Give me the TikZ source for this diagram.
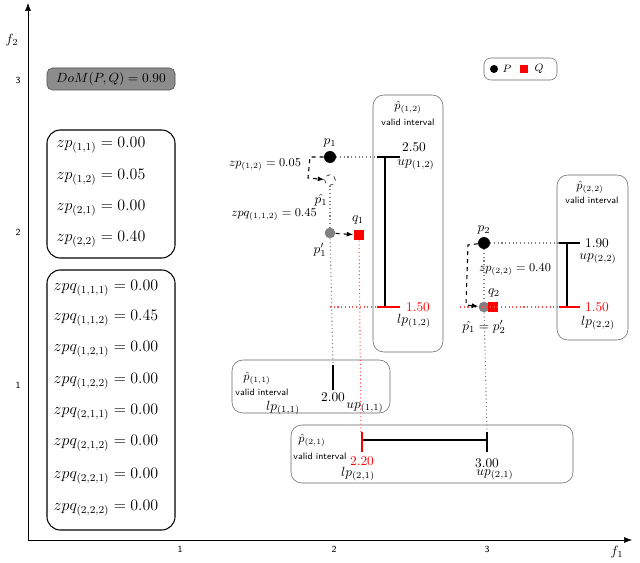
\documentclass[tikz,border=0pt]{standalone}
\usepackage{amsmath}
\usetikzlibrary{arrows.meta}
\begin{document}
\begin{tikzpicture}[x=0.75pt,y=-0.75pt,
 ibox/.style={draw=black!60,rounded corners=8pt,thin},
 lbox/.style={draw=black,thick,rounded corners=10pt},
 sm/.style={font=\sffamily\scriptsize},
 lab/.style={font=\normalsize},
 big/.style={font=\large},
 bar/.style={line width=2pt},
 gdot/.style={gray,dotted,thick},
 rdot/.style={red!70,dotted,thick},
 darr/.style={dashed,thick,-{Latex[length=5pt]}}]
\useasboundingbox (0,0) rectangle (640,563);
% axes
\draw[-{Latex[length=6pt]}] (28,540) -- (28,3);
\draw[-{Latex[length=6pt]}] (28,540) -- (632,540);
\node (f2) at (12,40) {$f_2$};
\node (f1) at (617,552) {$f_1$};
\node[sm] (y3) at (18,80) {3};
\node[sm] (y2) at (18,232) {2};
\node[sm] (y1) at (18,385) {1};
\node[sm] (x1) at (180,549) {1};
\node[sm] (x2) at (334,549) {2};
\node[sm] (x3) at (487,549) {3};
% left boxes
\draw[fill=black!45,draw=black!70,rounded corners=4pt] (47,68) rectangle (175,90);
\node[font=\normalsize] (dom) at (111,79) {$DoM(P,Q)=0.90$};
\draw[lbox] (47,130) rectangle (175,258);
\foreach \t/\v/\yy in {{(1,1)}/0.00/145,{(1,2)}/0.05/177,{(2,1)}/0.00/208,{(2,2)}/0.40/239}
  \node[big] at (101,\yy) {$zp_{\t}=\v$};
\draw[lbox] (47,270) rectangle (175,530);
\foreach \t/\v/\yy in {{(1,1,1)}/0.00/288,{(1,1,2)}/0.45/318,{(1,2,1)}/0.00/349,{(1,2,2)}/0.00/381,{(2,1,1)}/0.00/412,{(2,1,2)}/0.00/443,{(2,2,1)}/0.00/476,{(2,2,2)}/0.00/508}
  \node[big] at (106,\yy) {$zpq_{\t}=\v$};
% legend
\draw[ibox,rounded corners=5pt] (484,58) rectangle (557,80);
\fill (494,69) circle (4);
\node[font=\footnotesize] (lp) at (507,69) {$P$};
\fill[red] (520,65) rectangle (528,73);
\node[font=\footnotesize] (lq) at (539,69) {$Q$};
% interval boxes
\draw[ibox] (373,95) rectangle (443,352);
\node[font=\small] (t12) at (408,107) {$\hat p_{(1,2)}$};
\node[sm] (v12) at (408,122) {valid interval};
\draw[ibox] (557,175) rectangle (628,340);
\node[font=\small] (t22) at (590,187) {$\hat p_{(2,2)}$};
\node[sm] (v22) at (592,200) {valid interval};
\draw[ibox] (232,360) rectangle (390,413);
\node[font=\small] (t11) at (257,378) {$\hat p_{(1,1)}$};
\node[sm] (v11) at (262,392) {valid interval};
\draw[ibox] (291,425) rectangle (573,483);
\node[font=\small] (t21) at (312,440) {$\hat p_{(2,1)}$};
\node[sm] (v21) at (320,456) {valid interval};
% bars
\draw[bar] (385,157) -- (385,307);
\draw[bar] (377,157) -- (400,157);
\draw[bar,red] (377,307) -- (400,307);
\draw[bar] (567,243) -- (567,307);
\draw[bar] (559,243) -- (580,243);
\draw[bar,red] (559,307) -- (580,307);
\draw[bar] (333,365) -- (333,390);
\draw[line width=1.5pt] (362,440) -- (487,440);
\draw[bar,red] (362,432) -- (362,452);
\draw[bar] (487,432) -- (487,452);
\node[lab] at (414,147) {$2.50$};
\node[lab] at (416,165) {$up_{(1,2)}$};
\node[lab,red] at (418,307) {$1.50$};
\node[lab] at (414,321) {$lp_{(1,2)}$};
\node[lab] at (597,243) {$1.90$};
\node[lab] at (598,259) {$up_{(2,2)}$};
\node[lab,red] at (597,307) {$1.50$};
\node[lab] at (598,323) {$lp_{(2,2)}$};
\node[lab] at (333,397) {$2.00$};
\node[lab] at (283,408) {$lp_{(1,1)}$};
\node[lab] at (365,408) {$up_{(1,1)}$};
\node[lab,red] at (362,461) {$2.20$};
\node[lab] at (358,474) {$lp_{(2,1)}$};
\node[lab] at (487,463) {$3.00$};
\node[lab] at (495,475) {$up_{(2,1)}$};
% points
\node[circle,fill,inner sep=0pt,minimum size=9pt] (p1) at (330,157) {};
\node[circle,draw,dashed,inner sep=0pt,minimum size=8pt] (ph1) at (330,180) {};
\node[circle,fill=gray,inner sep=0pt,minimum size=8pt] (pp1) at (330,233) {};
\node[fill=red,inner sep=0pt,minimum size=8pt] (q1) at (359,235) {};
\node[circle,fill,inner sep=0pt,minimum size=9pt] (p2) at (484,243) {};
\node[circle,fill=gray,inner sep=0pt,minimum size=8pt] (pp2) at (484,307) {};
\node[fill=red,inner sep=0pt,minimum size=8pt] (q2) at (493,307) {};
\node[lab] at (330,143) {$p_1$};
\node[lab] at (321,200) {$\hat{p_1}$};
\node[lab] at (320,250) {$p_1'$};
\node[lab] at (358,220) {$q_1$};
\node[lab] at (484,230) {$p_2$};
\node[lab] at (494,293) {$q_2$};
\node[lab] at (484,327) {$\hat{p_1}=p_2'$};
\node[font=\small] at (265,165) {$zp_{(1,2)}=0.05$};
\node[font=\small] at (274,215) {$zpq_{(1,1,2)}=0.45$};
\node[font=\small] at (515,270) {$zp_{(2,2)}=0.40$};
% dotted guides
\draw[gdot] (p1) -- (377,157);
\draw[gdot] (p2) -- (559,243);
\draw[gdot] (ph1) -- (pp1);
\draw[gdot] (p2) -- (pp2);
\draw[gdot] (pp1) -- (333,365);
\draw[gdot] (pp2) -- (487,432);
\draw[rdot] (q1) -- (361,432);
\draw[rdot] (330,307) -- (377,307);
\draw[rdot] (460,307) -- (559,307);
% dashed arrows
\draw[darr] (p1) -- (310,157) -- (308,178) -- (ph1);
\draw[darr] (pp1) -- (q1);
\draw[darr] (p2) -- (468,245) -- (466,305) -- (pp2);
\end{tikzpicture}
\end{document}
